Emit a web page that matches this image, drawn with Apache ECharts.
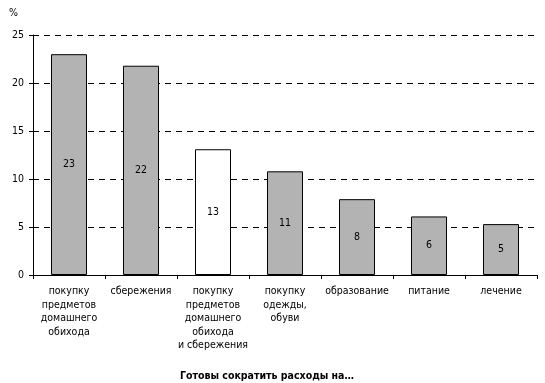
<!DOCTYPE html>
<html><head><meta charset="utf-8">
<script src="https://cdn.jsdelivr.net/npm/echarts@6/dist/echarts.min.js"></script>
<style>html,body{margin:0;padding:0;background:#fff}#c{width:545px;height:383px}</style>
</head><body><div id="c"></div>
<script>
var categories = [
  'покупку\nпредметов\nдомашнего\nобихода',
  'сбережения',
  'покупку\nпредметов\nдомашнего\nобихода\nи сбережения',
  'покупку\nодежды,\nобуви',
  'образование',
  'питание',
  'лечение'
];
var values = [23.0, 21.8, 13.1, 10.8, 7.9, 6.1, 5.3];
var valueLabels = ['23', '22', '13', '11', '8', '6', '5'];
var barColors = ['#b3b3b3', '#b3b3b3', '#ffffff', '#b3b3b3', '#b3b3b3', '#b3b3b3', '#b3b3b3'];
var yTicks = [0, 5, 10, 15, 20, 25];

var font = "'DejaVu Sans Condensed', 'Liberation Sans', Arial, sans-serif";
var chart = echarts.init(document.getElementById('c'));
chart.setOption({
  animation: false,
  grid: {left: 33, right: 8, top: 35, bottom: 108, containLabel: false},
  title: {
    text: 'Готовы сократить расходы на…',
    left: 267, textAlign: 'center', top: 371, padding: 0,
    textStyle: {fontFamily: font, fontSize: 10.5, fontWeight: 'bold', color: '#000'}
  },
  graphic: [{type: 'text', left: 9, top: 8, style: {text: '%', font: '10.5px ' + font, fill: '#000'}}],
  xAxis: {
    type: 'category', data: categories,
    axisLine: {lineStyle: {color: '#000', width: 1}},
    axisTick: {show: true, length: 4, lineStyle: {color: '#000'}},
    axisLabel: {interval: 0, color: '#000', fontFamily: font, fontSize: 10.5, lineHeight: 13.4, margin: 10}
  },
  yAxis: {
    type: 'value', min: 0, max: 25, interval: 5,
    axisLine: {show: true, lineStyle: {color: '#000', width: 1}},
    axisTick: {show: true, length: 4, lineStyle: {color: '#000'}},
    axisLabel: {color: '#000', fontFamily: font, fontSize: 10.5, margin: 9,
      formatter: function (v) { return yTicks.indexOf(v) >= 0 ? String(v) : ''; }},
    splitLine: {show: true, lineStyle: {color: '#000', type: [6, 5], width: 1}}
  },
  series: [{
    type: 'bar', barWidth: '50%',
    data: values.map(function (v, i) {
      return {value: v, itemStyle: {color: barColors[i], borderColor: '#000', borderWidth: 1}};
    }),
    label: {
      show: true, position: 'inside', color: '#000', fontFamily: font, fontSize: 10.5,
      formatter: function (p) { return valueLabels[p.dataIndex]; }
    }
  }]
});
</script></body></html>
